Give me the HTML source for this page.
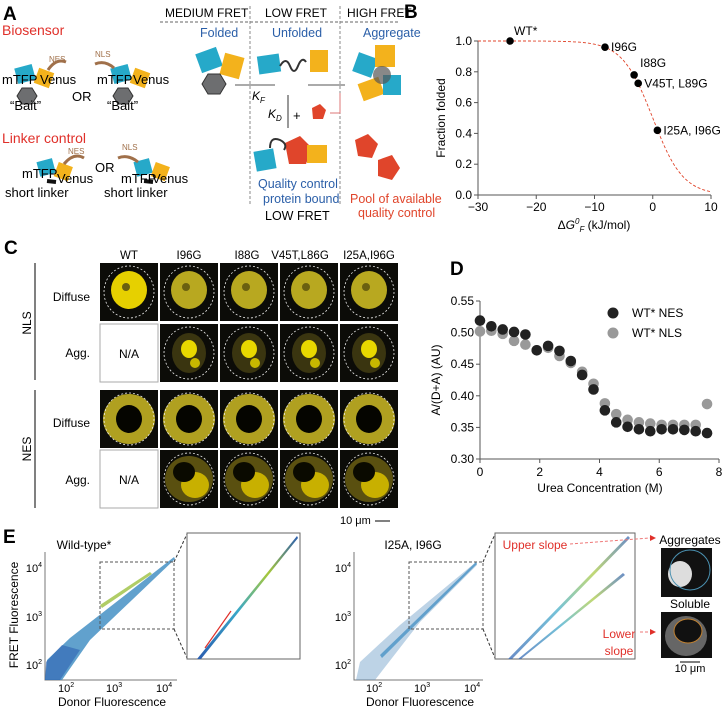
<!DOCTYPE html>
<html><head><meta charset="utf-8">
<style>
html,body{margin:0;padding:0;background:#fff;}
svg text{font-family:"Liberation Sans",Arial,sans-serif;}
</style></head>
<body>
<svg id="fig" width="724" height="710" viewBox="0 0 724 710" xmlns="http://www.w3.org/2000/svg">
<defs>
<linearGradient id="band" x1="0" y1="1" x2="1" y2="0">
<stop offset="0" stop-color="#2a5db0"/><stop offset="0.4" stop-color="#3aa8c8"/><stop offset="0.7" stop-color="#a7c83a"/><stop offset="1" stop-color="#2a5db0"/></linearGradient>
</defs>

<!-- PANEL A -->
<g>
<text x="3" y="20" font-size="19" font-weight="bold">A</text>
<text x="2" y="35" font-size="14" fill="#e0302a">Biosensor</text>
<g>
<rect x="16" y="66" width="18" height="16" fill="#26a9c9" transform="rotate(-15 25 74)"/>
<rect x="36" y="70" width="16" height="16" fill="#f3b21c" transform="rotate(20 44 78)"/>
<polygon points="22,88 32,88 37,96 32,104 22,104 17,96" fill="#6d6e70" stroke="#333"/>
<path d="M48,70 Q56,58 66,62" stroke="#a0704a" stroke-width="3" fill="none"/>
<text x="49" y="62" font-size="8" fill="#a0704a">NES</text>
<text x="2" y="84" font-size="13">mTFP</text><text x="40" y="84" font-size="13">Venus</text>
<text x="10" y="110" font-size="13">“Bait”</text>
</g>
<text x="72" y="101" font-size="13">OR</text>
<g>
<rect x="112" y="66" width="18" height="16" fill="#26a9c9" transform="rotate(-15 121 74)"/>
<rect x="132" y="70" width="16" height="16" fill="#f3b21c" transform="rotate(20 140 78)"/>
<polygon points="118,88 128,88 133,96 128,104 118,104 113,96" fill="#6d6e70" stroke="#333"/>
<path d="M95,64 Q105,60 114,68" stroke="#a0704a" stroke-width="3" fill="none"/>
<text x="95" y="57" font-size="8" fill="#a0704a">NLS</text>
<text x="97" y="84" font-size="13">mTFP</text><text x="133" y="84" font-size="13">Venus</text>
<text x="107" y="110" font-size="13">“Bait”</text>
</g>
<text x="2" y="143" font-size="14" fill="#e0302a">Linker control</text>
<g>
<rect x="38" y="160" width="16" height="15" fill="#26a9c9" transform="rotate(-15 46 167)"/>
<rect x="56" y="164" width="15" height="15" fill="#f3b21c" transform="rotate(20 63 171)"/>
<path d="M47,181 L56,182" stroke="#111" stroke-width="4"/>
<path d="M64,164 Q74,152 84,158" stroke="#a0704a" stroke-width="3" fill="none"/>
<text x="68" y="154" font-size="8" fill="#a0704a">NES</text>
<text x="22" y="178" font-size="13">mTFP</text><text x="57" y="183" font-size="13">Venus</text>
<text x="5" y="197" font-size="13">short linker</text>
</g>
<text x="95" y="172" font-size="13">OR</text>
<g>
<rect x="135" y="160" width="16" height="15" fill="#26a9c9" transform="rotate(-15 143 167)"/>
<rect x="153" y="164" width="15" height="15" fill="#f3b21c" transform="rotate(20 160 171)"/>
<path d="M144,181 L153,182" stroke="#111" stroke-width="4"/>
<path d="M118,158 Q128,154 138,162" stroke="#a0704a" stroke-width="3" fill="none"/>
<text x="122" y="150" font-size="8" fill="#a0704a">NLS</text>
<text x="121" y="183" font-size="13">mTFP</text><text x="152" y="183" font-size="13">Venus</text>
<text x="104" y="197" font-size="13">short linker</text>
</g>
<g font-size="12">
<text x="165" y="17" font-size="12">MEDIUM FRET</text>
<text x="265" y="17" font-size="12">LOW FRET</text>
<text x="347" y="17" font-size="12">HIGH FRET</text>
<line x1="160" y1="22" x2="400" y2="22" stroke="#666" stroke-dasharray="3,2"/>
<line x1="250" y1="6" x2="250" y2="205" stroke="#888" stroke-dasharray="3,2"/>
<line x1="340" y1="6" x2="340" y2="205" stroke="#888" stroke-dasharray="3,2"/>
<text x="200" y="37" fill="#2b5fa8" font-size="12.5">Folded</text>
<text x="272" y="37" fill="#2b5fa8" font-size="12.5">Unfolded</text>
<text x="363" y="37" fill="#2b5fa8" font-size="12.5">Aggregate</text>
<rect x="198" y="50" width="22" height="20" fill="#26a9c9" transform="rotate(-20 209 60)"/>
<rect x="222" y="55" width="20" height="22" fill="#f3b21c" transform="rotate(15 232 66)"/>
<polygon points="208,74 220,74 226,84 220,94 208,94 202,84" fill="#6d6e70" stroke="#333"/>
<line x1="235" y1="85" x2="275" y2="85" stroke="#555"/>
<text x="252" y="100" font-style="italic">K<tspan font-size="8" dy="3">F</tspan></text>
<rect x="258" y="55" width="22" height="18" fill="#26a9c9" transform="rotate(-8 269 64)"/>
<path d="M280,66 q6,-10 10,0 q4,10 8,0 q4,-10 8,-4" stroke="#333" stroke-width="2" fill="none"/>
<rect x="310" y="50" width="18" height="22" fill="#f3b21c"/>
<line x1="308" y1="85" x2="345" y2="85" stroke="#555"/>
<line x1="288" y1="95" x2="288" y2="128" stroke="#333"/>
<text x="268" y="118" font-style="italic">K<tspan font-size="8" dy="3">D</tspan></text>
<text x="293" y="120" font-size="13">+</text>
<polygon points="312,108 320,104 326,110 323,119 313,119" fill="#e0452b"/>
<path d="M330,113 h10 v-20" stroke="#d77" fill="none"/>
<rect x="255" y="150" width="20" height="20" fill="#26a9c9" transform="rotate(-10 265 160)"/>
<polygon points="285,143 300,136 312,148 306,164 289,164" fill="#e0452b"/>
<rect x="307" y="145" width="20" height="18" fill="#f3b21c"/>
<path d="M270,148 q0,-12 10,-8 q8,4 4,10" stroke="#333" stroke-width="2" fill="none"/>
<text x="258" y="188" fill="#2b5fa8" font-size="12.5">Quality control</text>
<text x="263" y="203" fill="#2b5fa8" font-size="12.5">protein bound</text>
<text x="265" y="220" font-size="12.5">LOW FRET</text>
<rect x="355" y="55" width="20" height="20" fill="#26a9c9" transform="rotate(20 365 65)"/>
<rect x="375" y="45" width="20" height="22" fill="#f3b21c"/>
<rect x="360" y="80" width="22" height="18" fill="#f3b21c" transform="rotate(-20 371 89)"/>
<rect x="383" y="75" width="18" height="20" fill="#26a9c9"/>
<circle cx="382" cy="75" r="9" fill="#555" opacity="0.7"/>
<polygon points="355,140 368,134 378,144 372,158 358,156" fill="#e0452b"/>
<polygon points="378,160 392,155 400,168 392,180 378,176" fill="#e0452b"/>
<text x="350" y="203" fill="#e0452b" font-size="12.5">Pool of available</text>
<text x="358" y="217" fill="#e0452b" font-size="12.5">quality control</text>
</g>
</g>

<!-- PANEL B -->
<g id="panelB">
<text x="404" y="18" font-size="19" font-weight="bold">B</text>
<text transform="translate(445 118) rotate(-90)" text-anchor="middle" font-size="12">Fraction folded</text>
<text x="594" y="229" text-anchor="middle" font-size="12">Δ<tspan font-style="italic">G</tspan><tspan font-size="8" dy="-5" font-style="italic">0</tspan><tspan font-size="8" dy="8" font-style="italic">F</tspan><tspan dy="-3"> (kJ/mol)</tspan></text>
</g>

<!-- PANEL C -->
<g id="panelC">
<text x="4" y="254" font-size="19" font-weight="bold">C</text>
<text x="129" y="259" text-anchor="middle" font-size="11.5">WT</text>
<text x="189" y="259" text-anchor="middle" font-size="11.5">I96G</text>
<text x="247" y="259" text-anchor="middle" font-size="11.5">I88G</text>
<text x="300" y="259" text-anchor="middle" font-size="11.5">V45T,L86G</text>
<text x="369" y="259" text-anchor="middle" font-size="11.5">I25A,I96G</text>
<line x1="35" y1="263" x2="35" y2="380" stroke="#000"/>
<line x1="35" y1="390" x2="35" y2="508" stroke="#000"/>
<text transform="translate(31 323) rotate(-90)" text-anchor="middle" font-size="12">NLS</text>
<text transform="translate(31 449) rotate(-90)" text-anchor="middle" font-size="12">NES</text>
<text x="90" y="301" text-anchor="end" font-size="12">Diffuse</text>
<text x="90" y="357" text-anchor="end" font-size="12">Agg.</text>
<text x="90" y="427" text-anchor="end" font-size="12">Diffuse</text>
<text x="90" y="484" text-anchor="end" font-size="12">Agg.</text>
<text x="340" y="524" font-size="11">10 μm</text>
<line x1="375" y1="521" x2="390" y2="521" stroke="#000"/>
</g>

<!-- PANEL D -->
<g id="panelD">
<text x="450" y="275" font-size="19" font-weight="bold">D</text>
<text transform="translate(440 380) rotate(-90)" text-anchor="middle" font-size="12">A/(D+A) (AU)</text>
<text x="600" y="492" text-anchor="middle" font-size="12">Urea Concentration (M)</text>
<circle cx="613" cy="313" r="5.5" fill="#222"/>
<text x="632" y="317" font-size="12">WT* NES</text>
<circle cx="613" cy="333" r="5.5" fill="#999"/>
<text x="632" y="337" font-size="12">WT* NLS</text>
</g>

<!-- PANEL E -->
<g id="panelE">
<text x="3" y="543" font-size="19" font-weight="bold">E</text>
<text x="84" y="549" text-anchor="middle" font-size="12">Wild-type*</text>
<text x="413" y="549" text-anchor="middle" font-size="12">I25A, I96G</text>
<text transform="translate(18 615) rotate(-90)" text-anchor="middle" font-size="12">FRET Fluorescence</text>
<text x="112" y="706" text-anchor="middle" font-size="12">Donor Fluorescence</text>
<text x="420" y="706" text-anchor="middle" font-size="12">Donor Fluorescence</text>
<!-- left plot -->
<path d="M45,552 V680 H177" stroke="#777" fill="none"/>
<polygon points="45,680 47,660 70,638 174,557 175,559 90,640 62,680" fill="#3a8ac0" opacity="0.8"/>
<polygon points="45,680 46,662 62,645 80,650 60,680" fill="#2a5db0" opacity="0.55"/>
<polygon points="100,605 150,572 152,574 102,608" fill="#9cc040" opacity="0.8"/>
<rect x="100" y="562" width="74" height="67" fill="none" stroke="#555" stroke-dasharray="3,2"/>
<line x1="174" y1="562" x2="187" y2="534" stroke="#333" stroke-dasharray="3,2"/>
<line x1="174" y1="629" x2="187" y2="658" stroke="#333" stroke-dasharray="3,2"/>
<rect x="187" y="533" width="113" height="126" fill="none" stroke="#666"/>
<polygon points="197,659 201,659 298,538 297,536" fill="url(#band)"/>
<line x1="205" y1="648" x2="231" y2="611" stroke="#e0302a" stroke-width="1.2"/>
<!-- right plot -->
<path d="M354,552 V680 H483" stroke="#777" fill="none"/>
<polygon points="356,680 360,662 400,625 476,562 477,565 420,622 375,680" fill="#5a90c0" opacity="0.4"/>
<polygon points="380,655 476,562 477,564 382,658" fill="#3a8ac0" opacity="0.7"/>
<rect x="409" y="562" width="74" height="67" fill="none" stroke="#555" stroke-dasharray="3,2"/>
<line x1="483" y1="562" x2="495" y2="534" stroke="#333" stroke-dasharray="3,2"/>
<line x1="483" y1="629" x2="495" y2="658" stroke="#333" stroke-dasharray="3,2"/>
<rect x="495" y="533" width="140" height="126" fill="none" stroke="#666"/>
<polygon points="508,659 512,659 630,538 628,536" fill="url(#band)" opacity="0.7"/>
<polygon points="518,659 521,659 625,575 623,573" fill="url(#band)" opacity="0.7"/>
<text x="535" y="549" text-anchor="middle" font-size="12" fill="#e0302a">Upper slope</text>
<text x="619" y="638" text-anchor="middle" font-size="12" fill="#e0302a">Lower</text>
<text x="619" y="655" text-anchor="middle" font-size="12" fill="#e0302a">slope</text>
<line x1="570" y1="544" x2="650" y2="538" stroke="#e77" stroke-dasharray="3,2"/>
<polygon points="650,535 656,538 650,541" fill="#e0302a"/>
<line x1="640" y1="632" x2="650" y2="632" stroke="#e77" stroke-dasharray="3,2"/>
<polygon points="650,629 656,632 650,635" fill="#e0302a"/>
<text x="690" y="544" text-anchor="middle" font-size="12">Aggregates</text>
<rect x="661" y="548" width="51" height="49" fill="#111"/>
<ellipse cx="680" cy="574" rx="12" ry="13" fill="#ddd"/>
<ellipse cx="690" cy="570" rx="20" ry="20" fill="none" stroke="#4a90b0"/>
<text x="690" y="608" text-anchor="middle" font-size="12">Soluble</text>
<rect x="661" y="612" width="51" height="46" fill="#111"/>
<ellipse cx="686" cy="636" rx="21" ry="20" fill="#666"/>
<ellipse cx="688" cy="631" rx="14" ry="12" fill="#111" stroke="#c08030"/>
<text x="690" y="672" text-anchor="middle" font-size="11">10 μm</text>
<line x1="680" y1="662" x2="700" y2="662" stroke="#000"/>
</g>
</svg>
<script>
var NS="http://www.w3.org/2000/svg";
var svg=document.getElementById('fig');
function mk(tag,attrs,parent){var e=document.createElementNS(NS,tag);for(var k in attrs)e.setAttribute(k,attrs[k]);(parent||svg).appendChild(e);return e;}

/* Panel B data */
var bNames=["WT*","I96G","I88G","V45T, L89G","I25A, I96G"];
var bDeltaG=[-24.5,-8.2,-3.2,-2.5,0.8];
var bFraction=[1.0,0.96,0.78,0.725,0.42];
var bXTicks=[-30,-20,-10,0,10];
var bYTicks=["0.0","0.2","0.4","0.6","0.8","1.0"];
var bFitMid=0, bFitSlope=2.6;

/* Panel D data */
var dUrea=[0,0.38,0.76,1.14,1.52,1.9,2.28,2.66,3.04,3.42,3.8,4.18,4.56,4.94,5.32,5.7,6.08,6.46,6.84,7.22,7.6];
var dNES=[0.519,0.510,0.505,0.501,0.497,0.472,0.479,0.471,0.455,0.433,0.410,0.377,0.358,0.351,0.347,0.344,0.347,0.347,0.346,0.344,0.341];
var dNLS=[0.502,0.503,0.498,0.487,0.481,0.472,0.476,0.463,0.452,0.438,0.419,0.388,0.371,0.362,0.358,0.356,0.354,0.354,0.354,0.354,0.387];
var dXTicks=[0,2,4,6,8];
var dYTicks=["0.30","0.35","0.40","0.45","0.50","0.55"];

/* Panel E tick labels */
var eTicks=["2","3","4"];

(function(){
 var g=document.getElementById('panelB');
 function X(v){return 478+(v+30)/40*233;}
 function Y(v){return 195-v*154;}
 var ax=mk('path',{d:'M'+X(-30)+','+Y(1)+' V'+Y(0)+' H'+X(10),stroke:'#555',fill:'none'},g);
 
 
 bXTicks.forEach(function(t){
  mk('line',{x1:X(t),x2:X(t),y1:Y(0),y2:Y(0)+4,stroke:'#555'},g);
  var tx=mk('text',{x:X(t),y:Y(0)+16,'text-anchor':'middle','font-size':12},g);
  tx.textContent=(t<0?'\u2212'+(-t):t);
  
  
 });
 bYTicks.forEach(function(t){
  var v=parseFloat(t);
  mk('line',{x1:X(-30)-4,x2:X(-30),y1:Y(v),y2:Y(v),stroke:'#555'},g);
  var tx=mk('text',{x:X(-30)-6,y:Y(v)+4,'text-anchor':'end','font-size':12},g);
  tx.textContent=t;
  
  
 });
 var d='';
 for(var x=-30;x<=10.001;x+=0.5){var f=1/(1+Math.exp((x-bFitMid)/bFitSlope));d+=(d?'L':'M')+X(x).toFixed(1)+','+Y(f).toFixed(1);}
 var fit=mk('path',{d:d,stroke:'#e0452b','stroke-dasharray':'3,2',fill:'none','stroke-width':0.9},g);
 
 
 bDeltaG.forEach(function(v,i){
  var c=mk('circle',{cx:X(v),cy:Y(bFraction[i]),r:3.8,fill:'#000'},g);
  
  
  var tx=mk('text',{x:X(v)+(i==0?4:6),y:Y(bFraction[i])+(i==0?-6:(i==2?-8:4)),'font-size':12},g);
  tx.textContent=bNames[i];
  
  
 });
})();

(function(){
 var g=document.getElementById('panelD');
 function X(v){return 480+v/8*239;}
 function Y(v){return 459-(v-0.30)/0.25*158;}
 var ax=mk('path',{d:'M'+X(0)+','+Y(0.55)+' V'+Y(0.30)+' H'+X(8),stroke:'#555',fill:'none'},g);
 
 
 dXTicks.forEach(function(t){
  mk('line',{x1:X(t),x2:X(t),y1:Y(0.3),y2:Y(0.3)+4,stroke:'#555'},g);
  var tx=mk('text',{x:X(t),y:Y(0.3)+17,'text-anchor':'middle','font-size':12},g);
  tx.textContent=t;
  
  
 });
 dYTicks.forEach(function(t){
  var v=parseFloat(t);
  mk('line',{x1:X(0)-4,x2:X(0),y1:Y(v),y2:Y(v),stroke:'#555'},g);
  var tx=mk('text',{x:X(0)-6,y:Y(v)+4,'text-anchor':'end','font-size':12},g);
  tx.textContent=t;
  
  
 });
 dUrea.forEach(function(u,i){
  var c=mk('circle',{cx:X(u),cy:Y(dNLS[i]),r:5.3,fill:'#999'},g);
  
  
 });
 dUrea.forEach(function(u,i){
  var c=mk('circle',{cx:X(u),cy:Y(dNES[i]),r:5.3,fill:'#222'},g);
  
  
 });
})();

(function(){
 var g=document.getElementById('panelC');
 var cols=[100,160,220,280,340], rows=[263,324,390,450];
 rows.forEach(function(ry,ri){
  cols.forEach(function(cx,ci){
   var na=(ci==0&&(ri==1||ri==3));
   var r=mk('rect',{x:cx,y:ry,width:58,height:58,fill:na?'#fff':'#0c0c08',stroke:na?'#aaa':'none'},g);
   
   
   var mx=cx+29,my=ry+29;
   if(na){var t=mk('text',{x:mx,y:my+5,'text-anchor':'middle','font-size':12},g);t.textContent='N/A';return;}
   if(ri==0){mk('ellipse',{cx:mx,cy:my-2,rx:18,ry:19,fill:ci==0?'#e6d000':'#b8a820'},g);mk('circle',{cx:mx-3,cy:my-5,r:4,fill:'#6a6010'},g);}
   else if(ri==1){mk('ellipse',{cx:mx,cy:my,rx:17,ry:20,fill:'#3a3510'},g);mk('ellipse',{cx:mx,cy:my-4,rx:8,ry:9,fill:'#e8d800'},g);mk('circle',{cx:mx+6,cy:my+10,r:5,fill:'#c8b800'},g);}
   else if(ri==2){mk('ellipse',{cx:mx,cy:my,rx:26,ry:25,fill:'#b0a020'},g);mk('ellipse',{cx:mx,cy:my,rx:13,ry:14,fill:'#050500'},g);}
   else {mk('ellipse',{cx:mx,cy:my,rx:24,ry:23,fill:'#5a5010'},g);mk('ellipse',{cx:mx+6,cy:my+6,rx:14,ry:13,fill:'#c8b000'},g);mk('ellipse',{cx:mx-5,cy:my-7,rx:11,ry:10,fill:'#0a0a00'},g);}
   mk('ellipse',{cx:mx,cy:my,rx:25,ry:26,fill:'none',stroke:'#eee','stroke-dasharray':'2,2','stroke-width':0.8},g);
  });
 });
})();

(function(){
 var g=document.getElementById('panelE');
 [[45,64,112,162],[354,372,420,470]].forEach(function(p){
  eTicks.forEach(function(t,i){
   var tx=mk('text',{x:p[i+1]-6,y:692,'font-size':11},g);
   tx.innerHTML='10<tspan font-size="7" dy="-5">'+t+'</tspan>';
   
   
   var yy=[665,617,568][i];
   var ty=mk('text',{x:p[0]-3,y:yy+4,'text-anchor':'end','font-size':11},g);
   ty.innerHTML='10<tspan font-size="7" dy="-5">'+t+'</tspan>';
   
   
  });
 });
})();
</script>
</body></html>
